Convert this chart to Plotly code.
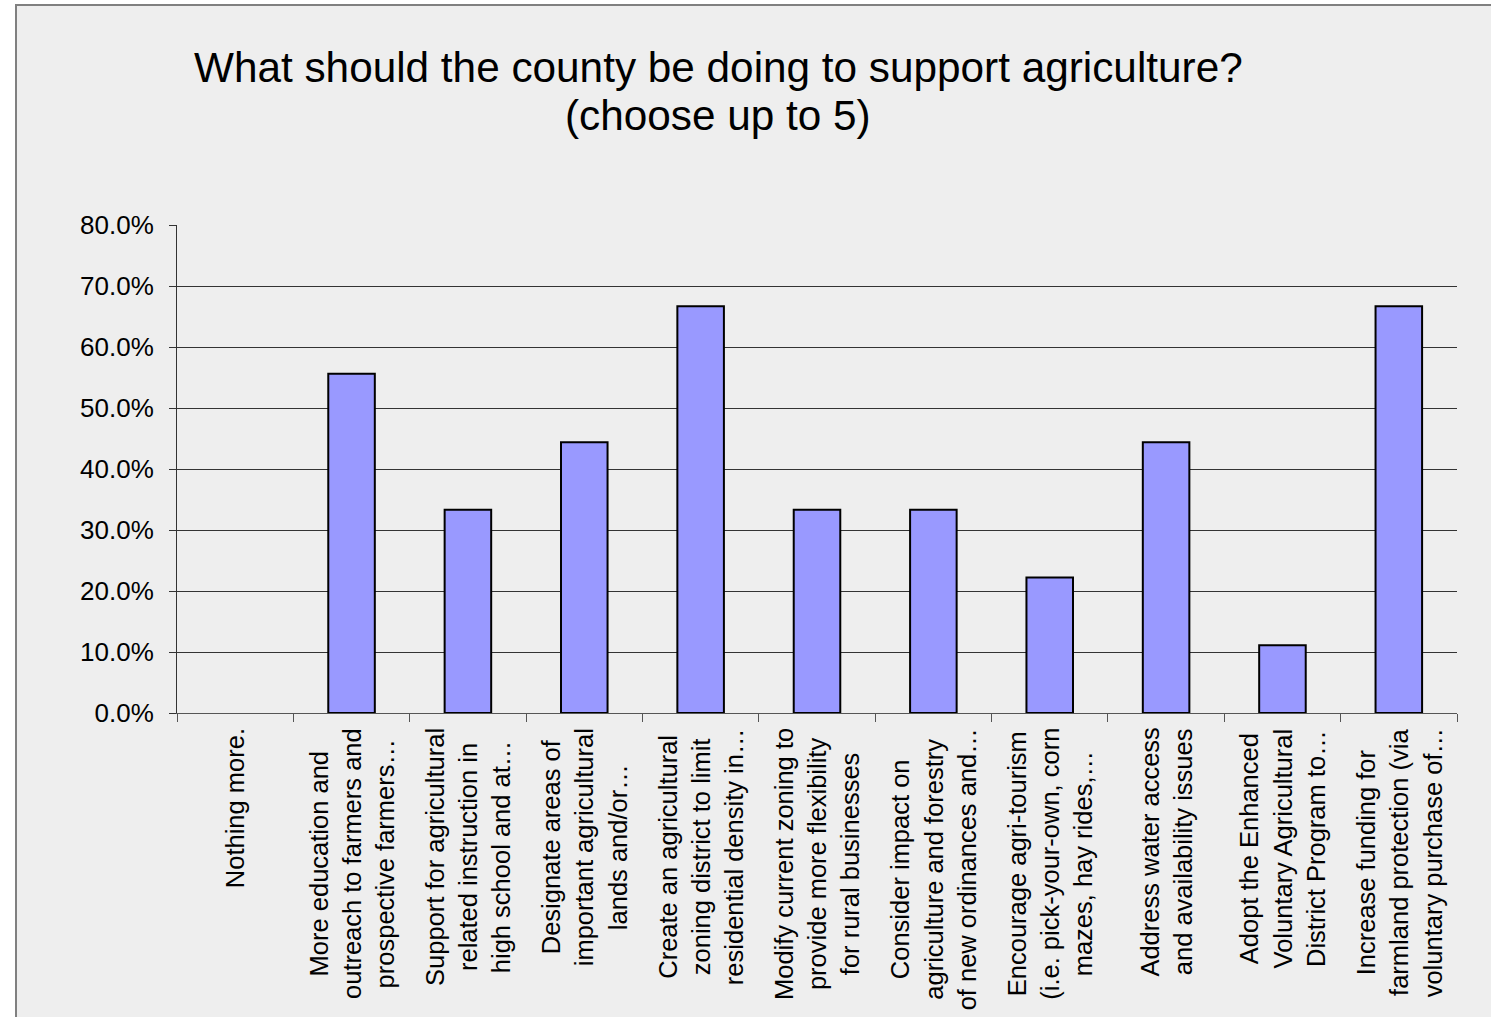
import plotly.graph_objects as go

categories = [
    "Nothing more.",
    "More education and<br>outreach to farmers and<br>prospective farmers…",
    "Support for agricultural<br>related instruction in<br>high school and at…",
    "Designate areas of<br>important agricultural<br>lands and/or…",
    "Create an agricultural<br>zoning district to limit<br>residential density in…",
    "Modify current zoning to<br>provide more flexibility<br>for rural businesses",
    "Consider impact on<br>agriculture and forestry<br>of new ordinances and…",
    "Encourage agri-tourism<br>(i.e. pick-your-own, corn<br>mazes, hay rides,…",
    "Address water access<br>and availability issues",
    "Adopt the Enhanced<br>Voluntary Agricultural<br>District Program to…",
    "Increase funding for<br>farmland protection (via<br>voluntary purchase of…",
]
values = [0.0, 55.6, 33.3, 44.4, 66.7, 33.3, 33.3, 22.2, 44.4, 11.1, 66.7]
title_lines = ["What should the county be doing to support agriculture?", "(choose up to 5)"]

FONT = "Liberation Sans, Arial, sans-serif"
W, H = 1491, 1017
L, R, T, B = 177, 34, 225, 304
pw, ph = W - L - R, H - T - B

fig = go.Figure()
fig.add_trace(go.Bar(
    x=categories, y=values,
    marker=dict(color="#9999ff",
                line=dict(color="black", width=[0 if v == 0 else 2 for v in values])),
    width=0.4,
))

annotations = []
for c in categories:
    annotations.append(dict(
        x=c, xref="x", y=0, yref="paper", yshift=-13,
        text=c, textangle=-90, showarrow=False,
        xanchor="center", yanchor="top", align="center",
        font=dict(family=FONT, size=25.5, color="black"),
    ))

# title lines
title_centers = [67, 116]
for line, yc in zip(title_lines, title_centers):
    annotations.append(dict(
        x=(718 - L) / pw, xref="paper", y=(H - B - yc) / ph, yref="paper",
        text=line, showarrow=False, xanchor="center", yanchor="middle",
        font=dict(family=FONT, size=42.3, color="black"),
    ))

fig.update_layout(
    width=W, height=H,
    margin=dict(l=L, r=R, t=T, b=B, autoexpand=False),
    paper_bgcolor="white",
    plot_bgcolor="rgba(0,0,0,0)",
    showlegend=False,
    annotations=annotations,
    shapes=[dict(
        type="rect", xref="paper", yref="paper", layer="below",
        x0=(16 - L) / pw, x1=1.2, y0=-1.0, y1=(H - B - 5) / ph,
        fillcolor="#eeeeee", line=dict(color="#808080", width=2),
    )],
    xaxis=dict(
        type="category",
        range=[-0.5, len(categories) - 0.5],
        showticklabels=False,
        ticks="outside", ticklen=8, tickcolor="#555", tickwidth=1,
        tickson="boundaries",
        showgrid=False, zeroline=False,
        showline=True, linecolor="#555", linewidth=1,
        fixedrange=True,
    ),
    yaxis=dict(
        range=[0, 80], dtick=10, tickformat=".1f", ticksuffix="%",
        ticks="outside", ticklen=7, tickcolor="#333", tickwidth=1,
        showgrid=True, gridcolor="#333", gridwidth=1,
        zeroline=False, showline=True, linecolor="#333", linewidth=1,
        tickfont=dict(family=FONT, size=26, color="black"),
        ticklabelstandoff=10,
        fixedrange=True,
    ),
)

fig.write_html("out.html", config={"displayModeBar": False})
